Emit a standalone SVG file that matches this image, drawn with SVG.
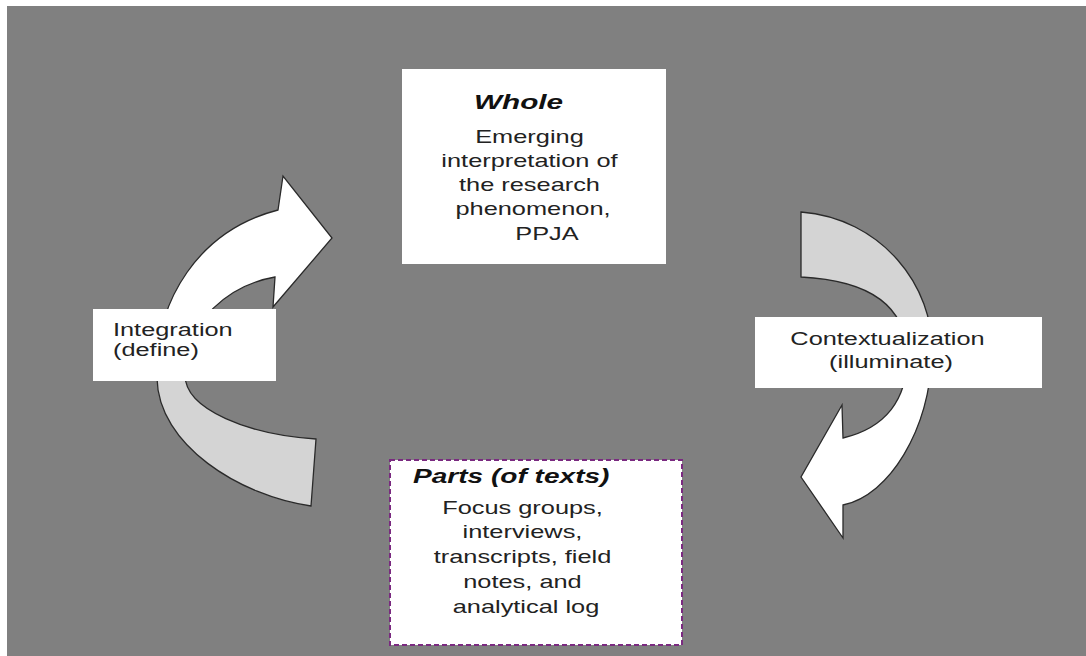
<svg xmlns="http://www.w3.org/2000/svg" width="1086" height="656" viewBox="0 0 1086 656">
<defs>
<style>
.t{font-family:"Liberation Sans",Arial,sans-serif;fill:#222}
.body{font-size:17.5px}
.ttl{font-size:20px;font-weight:bold;font-style:italic;fill:#111}
.lbl{font-size:18.5px}
.arrow{stroke:#2a2a2a;stroke-width:1.3;stroke-linejoin:miter}
.box{fill:#fff}
</style>
<linearGradient id="gLeft" gradientUnits="userSpaceOnUse" x1="0" y1="300" x2="0" y2="390">
<stop offset="0.5" stop-color="#ffffff"/>
<stop offset="0.5" stop-color="#d4d4d4"/>
</linearGradient>
<linearGradient id="gRight" gradientUnits="userSpaceOnUse" x1="0" y1="310" x2="0" y2="395">
<stop offset="0.5" stop-color="#d4d4d4"/>
<stop offset="0.5" stop-color="#ffffff"/>
</linearGradient>
</defs>
<rect x="0" y="0" width="1086" height="656" fill="#ffffff"/>
<rect x="7" y="6" width="1079" height="650" fill="#808080"/>

<g id="connectors">
<path id="arrow-integration" class="arrow" fill="url(#gLeft)" d="M 311,506 C 240,496 158,445 157,378 C 154,300 200,230 278,210 L 283,176 L 332,238 L 273,307 L 275,277 C 230,285 185,320 185,375 C 185,410 250,435 316,439 Z"/>
<path id="arrow-context" class="arrow" fill="url(#gRight)" d="M 801,212 C 880,218 935,285 932,355 C 929,430 890,495 843,505 L 843,538 L 801,477 L 842,405 L 843,438 C 885,428 908,400 907,355 C 906,300 860,280 801,277 Z"/>
</g>

<g id="node-whole">
<rect class="box" x="402" y="69" width="264" height="195"/>
<g transform="translate(518.5 0) scale(1.45 1)">
<text class="t ttl" x="0" y="109" text-anchor="middle" style="font-size:20.5px">Whole</text>
</g>
<g transform="translate(533 0) scale(1.45 1)">
<text class="t body" text-anchor="middle">
<tspan x="0" y="143">Emerging</tspan>
<tspan x="0" y="167">interpretation of</tspan>
<tspan x="0" y="191">the research</tspan>
<tspan x="0" y="215">phenomenon,</tspan>
</text>
</g>
<g transform="translate(547 0) scale(1.45 1)">
<text class="t body" x="0" y="240" text-anchor="middle">PPJA</text>
</g>
</g>

<g id="node-parts">
<rect class="box" x="390" y="460" width="292" height="185" stroke="#7a2a80" stroke-width="2" stroke-dasharray="5 3"/>
<g transform="translate(413 0) scale(1.44 1)">
<text class="t ttl" x="0" y="483" style="font-size:19.5px">Parts (of texts)</text>
</g>
<g transform="translate(526 0) scale(1.45 1)">
<text class="t body" text-anchor="middle">
<tspan x="0" y="514">Focus groups,</tspan>
<tspan x="0" y="538.5">interviews,</tspan>
<tspan x="0" y="563">transcripts, field</tspan>
<tspan x="0" y="588">notes, and</tspan>
<tspan x="0" y="613">analytical log</tspan>
</text>
</g>
</g>

<g id="node-integration">
<rect class="box" x="93" y="309" width="183" height="72"/>
<g transform="translate(113 0) scale(1.37 1)">
<text class="t lbl">
<tspan x="0" y="336">Integration</tspan>
<tspan x="0" y="356">(define)</tspan>
</text>
</g>
</g>

<g id="node-contextualization">
<rect class="box" x="755" y="317" width="287" height="71"/>
<g transform="translate(891 0) scale(1.37 1)">
<text class="t lbl" text-anchor="middle">
<tspan x="0" y="345">Contextualization</tspan>
<tspan x="0" y="368">(illuminate)</tspan>
</text>
</g>
</g>
</svg>
